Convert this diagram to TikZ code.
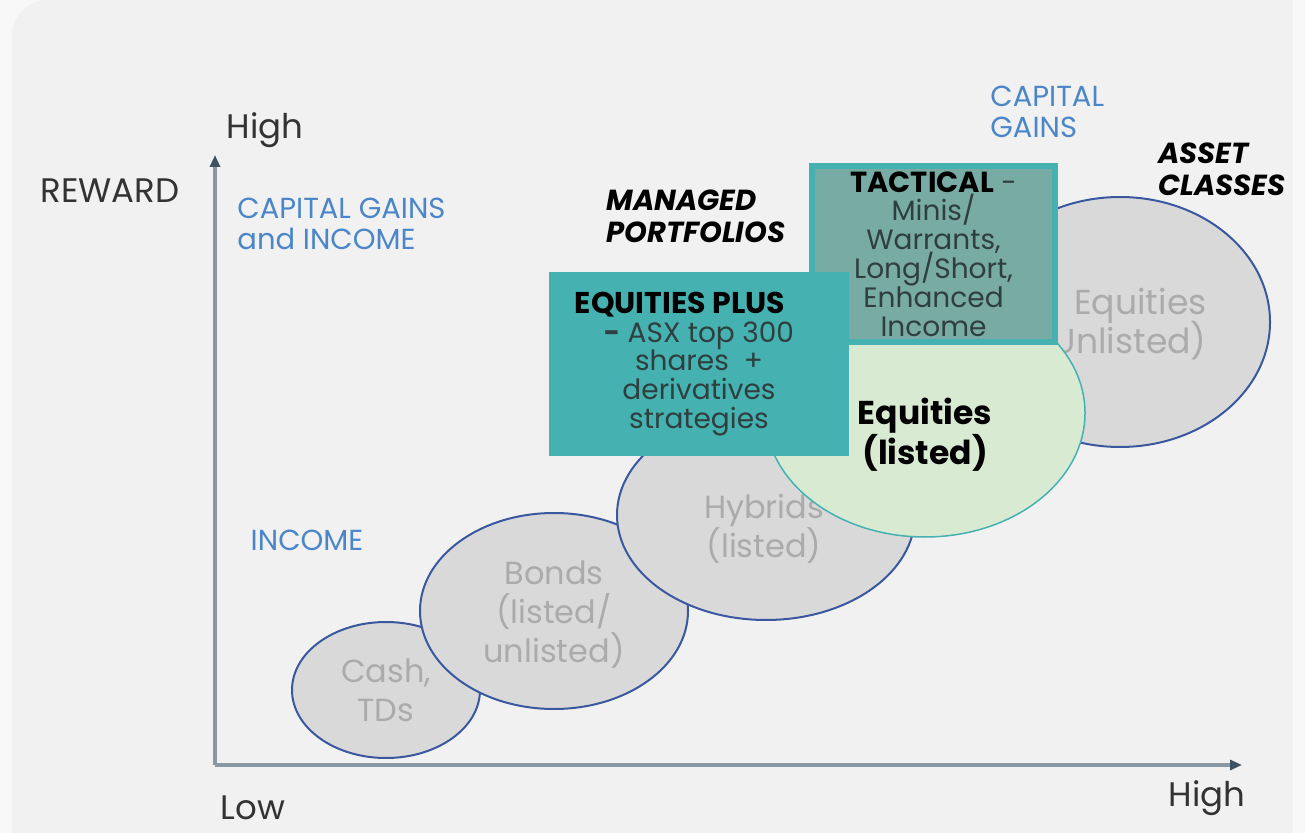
\documentclass[tikz,border=0pt]{standalone}
\usepackage{fontspec}
\setmainfont{Poppins}
\usepackage{tikz}
\usetikzlibrary{arrows.meta,positioning,shapes.geometric}
\definecolor{pagegrey}{HTML}{F8F8F8}
\definecolor{panelgrey}{HTML}{F1F1F1}
\definecolor{assetgrey}{HTML}{D9D9D9}
\definecolor{assetblue}{HTML}{3A58A0}
\definecolor{assettxt}{HTML}{ABABAB}
\definecolor{listedgreen}{HTML}{D9EAD3}
\definecolor{mpteal}{HTML}{45B1B1}
\definecolor{tactgrey}{HTML}{78ABA3}
\definecolor{goalblue}{HTML}{4A86C8}
\definecolor{axisgrey}{HTML}{8A98A4}
\definecolor{axishead}{HTML}{3E5262}
\definecolor{lbltxt}{HTML}{333333}
\definecolor{boxtxt}{HTML}{2F3F3F}
\setlength{\lineskiplimit}{-6pt}

\begin{document}
\begin{tikzpicture}[x=0.5pt,y=-0.5pt,
every node/.style={inner sep=0pt,text=lbltxt},
axlbl/.style={font=\fontsize{17}{17}\selectfont},
goal/.style={text=goalblue,align=left,anchor=west,font=\fontsize{14.5}{15.5}\selectfont},
tier/.style={align=left,anchor=west,text=black,font=\fontsize{14.5}{16}\selectfont\bfseries\itshape},
asset/.style={ellipse,draw=assetblue,line width=1pt,fill=assetgrey},
assetlbl/.style={text=assettxt,align=center,font=\fontsize{16}{19.5}\selectfont},
mpbox/.style={rectangle,fill=mpteal,align=center,text=boxtxt,font=\fontsize{14}{14.4}\selectfont},
axis/.style={line width=1.6pt,draw=axisgrey,-{Triangle[length=6pt,width=5pt,color=axishead]}}
]
\useasboundingbox (0,0) rectangle (1305,833);
\fill[pagegrey] (0,0) rectangle (1305,833);
\fill[panelgrey,rounded corners=18] (12,0) rectangle (1330,870);
\fill[pagegrey] (1293,0) rectangle (1305,833);

\coordinate (orig) at (215,765);
\coordinate (ytip) at (215,155);
\coordinate (xtip) at (1242,765);
\draw[axis] (orig) -- (ytip);
\draw[axis] (orig) -- (xtip);

\node[axlbl] (yhigh)  at (265,130) {High};
\node[axlbl] (reward) at (110,191) {REWARD};
\node[axlbl] (xlow)   at (253,808) {Low};
\node[axlbl] (xhigh)  at (1207,798) {High};

\node[goal] (cgi) at (237,224) {CAPITAL GAINS\\and INCOME};
\node[goal,anchor=center] (inc) at (307,540) {INCOME};
\node[goal] (cg) at (990,112) {CAPITAL\\GAINS};
\node[tier] (mp) at (606,216) {MANAGED\\PORTFOLIOS};
\node[tier] (ac) at (1158,169) {ASSET\\CLASSES};

\node[asset,minimum width=94pt,minimum height=68pt] (cash) at (386,690) {};
\node[assetlbl] (cashlbl) at (cash) {Cash,\\TDs};
\node[asset,minimum width=134pt,minimum height=98pt] (bonds) at (554,611) {};
\node[assetlbl] (bondslbl) at (554,615) {Bonds\\(listed/\\unlisted)};
\node[asset,minimum width=149pt,minimum height=105pt] (hybrids) at (766,515) {};
\node[assetlbl] (hybridslbl) at (764,529) {Hybrids\\(listed)};
\node[asset,minimum width=150pt,minimum height=125pt] (unlisted) at (1120,322) {};
\node[assetlbl,align=right,anchor=east,font=\fontsize{17.3}{19.5}\selectfont] (unlistedlbl) at (1207,324) {Equities\\Unlisted)};
\node[ellipse,draw=mpteal,line width=0.75pt,fill=listedgreen,minimum width=160pt,minimum height=124pt] (listed) at (925,413) {};
\node[text=black,align=center,font=\fontsize{16.5}{20}\selectfont\bfseries] (listedlbl) at (925,435) {Equities\\(listed)};

\node[mpbox,draw=mpteal,line width=3pt,fill=tactgrey,minimum width=121.5pt,minimum height=88pt] (tactical) at (933.5,254)
  {\textcolor{black}{\fontsize{14.5}{14.4}\selectfont\textbf{TACTICAL}} -\\Minis/\\Warrants,\\Long/Short,\\Enhanced\\Income};
\node[mpbox,minimum width=150pt,minimum height=92pt] (eqplus) at (699,364)
  {\textcolor{black}{\fontsize{15}{14.4}\selectfont\textbf{EQUITIES PLUS}}\hspace*{19pt}\\\textbf{-} ASX top 300\\shares\ \ +\\derivatives\\strategies};
\end{tikzpicture}
\end{document}
